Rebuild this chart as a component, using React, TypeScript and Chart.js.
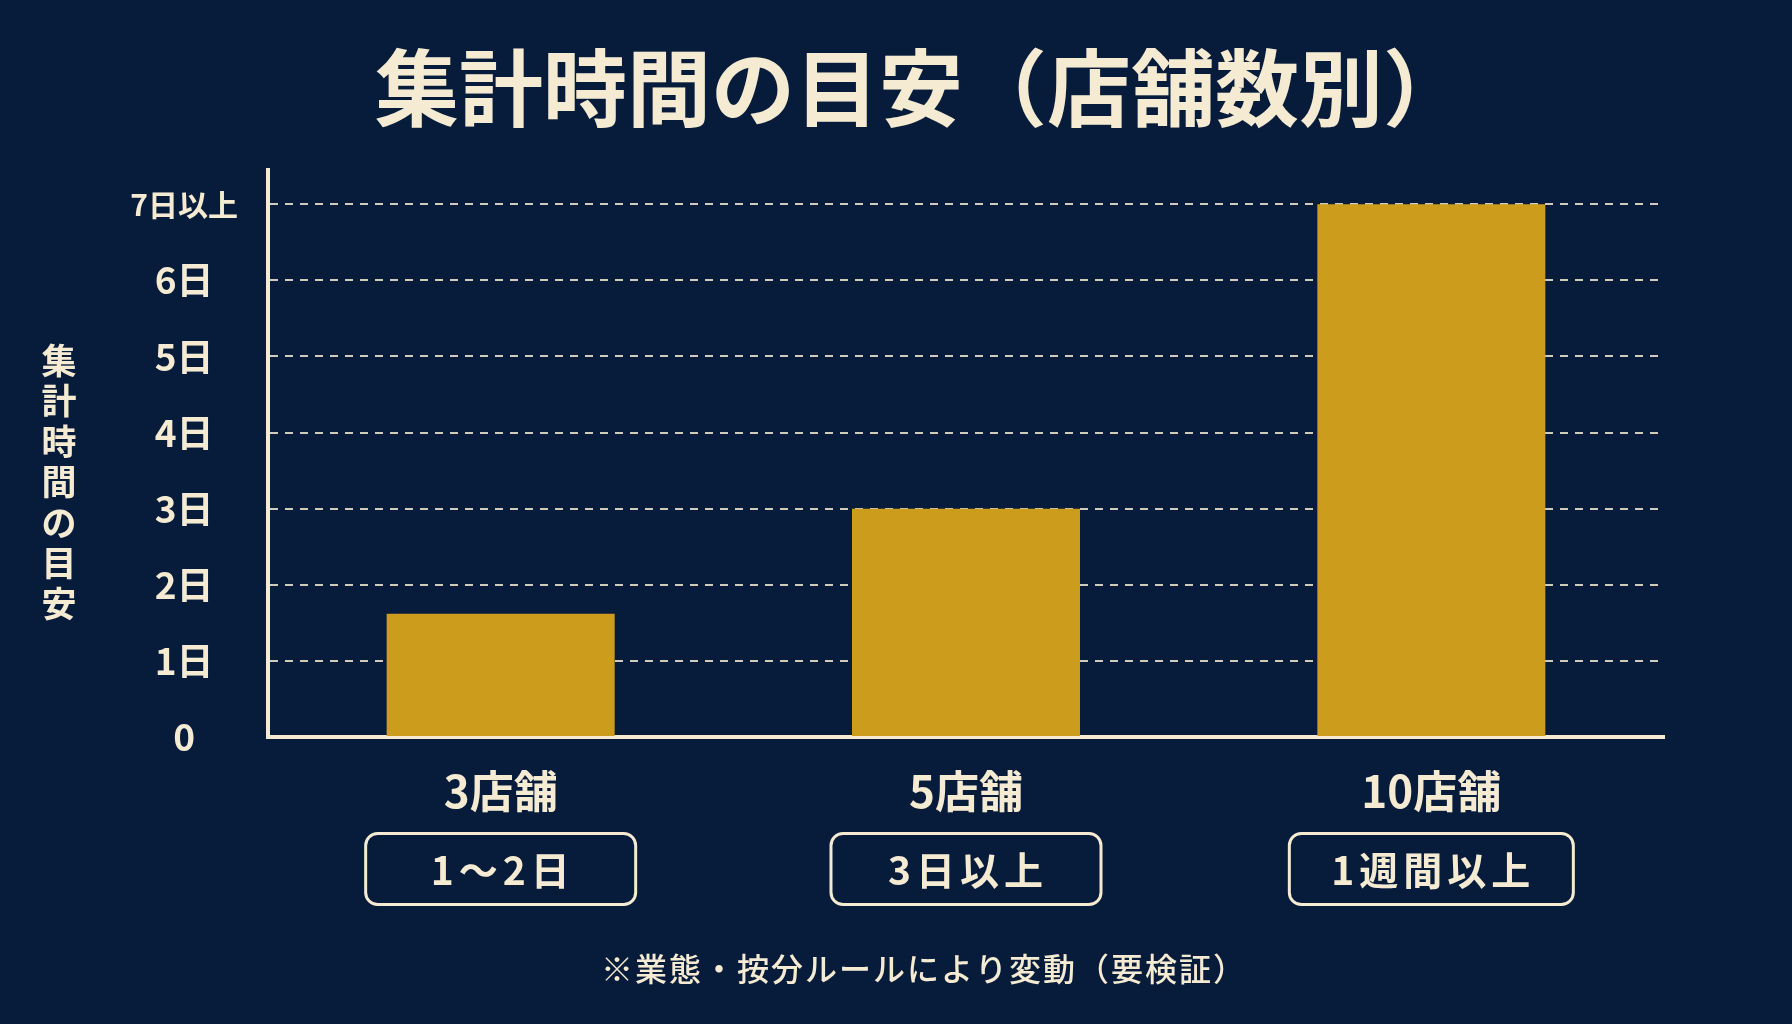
import { useEffect, useRef } from "react";
import { Chart, ChartConfiguration, Plugin, registerables } from "chart.js";

Chart.register(...registerables);

const storeCounts = ["3店舗", "5店舗", "10店舗"];
const durationDays = [1.62, 3, 7];
const durationLabels = ["1～2日", "3日以上", "1週間以上"];
const yTickLabels = ["0", "1日", "2日", "3日", "4日", "5日", "6日", "7日以上"];
const yAxisTitle = "集計時間の目安";
const chartTitle = "集計時間の目安（店舗数別）";
const footnote = "※業態・按分ルールにより変動（要検証）";

const FONT = "'Noto Sans CJK JP', 'Noto Sans', sans-serif";
const CREAM = "#f5ead2";
const NAVY = "#071b3b";
const GOLD = "#cc9c1d";

// title on top, note at the bottom
const headingPlugin: Plugin<"bar"> = {
  id: "headings",
  afterDraw(chart) {
    const ctx = chart.ctx;
    ctx.save();
    ctx.fillStyle = CREAM;
    ctx.textAlign = "center";
    ctx.textBaseline = "middle";
    ctx.font = `bold 84px ${FONT}`;
    ctx.fillText(chartTitle, chart.width / 2 + 25, 88);
    ctx.font = `500 32px ${FONT}`;
    ctx.letterSpacing = "2px";
    ctx.fillText(footnote, chart.width / 2 + 28, 969);
    ctx.restore();
  },
};

// stacked vertical y title
const yTitlePlugin: Plugin<"bar"> = {
  id: "yTitle",
  afterDraw(chart) {
    const ctx = chart.ctx;
    const chars = Array.from(yAxisTitle);
    const pitch = 40.5;
    const startY = 482 - ((chars.length - 1) * pitch) / 2;
    ctx.save();
    ctx.fillStyle = CREAM;
    ctx.font = `bold 35px ${FONT}`;
    ctx.textAlign = "center";
    ctx.textBaseline = "middle";
    chars.forEach((c, i) => ctx.fillText(c, 59, startY + i * pitch));
    ctx.restore();
  },
};

// rounded boxes under the category labels
const rangeBoxPlugin: Plugin<"bar"> = {
  id: "rangeBoxes",
  afterDraw(chart) {
    const ctx = chart.ctx;
    const xScale = chart.scales.x;
    const cy = xScale.top + 132;
    const h = 71;
    ctx.save();
    ctx.font = `600 39px ${FONT}`;
    ctx.letterSpacing = "5px";
    ctx.textAlign = "center";
    ctx.textBaseline = "middle";
    durationLabels.forEach((label, i) => {
      const cx = xScale.getPixelForValue(i);
      const w = Math.max(ctx.measureText(label).width + 80, 270);
      ctx.beginPath();
      ctx.roundRect(cx - w / 2, cy - h / 2, w, h, 12);
      ctx.strokeStyle = CREAM;
      ctx.lineWidth = 3;
      ctx.stroke();
      ctx.fillStyle = CREAM;
      ctx.fillText(label, cx + 2, cy + 1);
    });
    ctx.restore();
  },
};

export default function App() {
  const canvasRef = useRef<HTMLCanvasElement | null>(null);
  const chartRef = useRef<Chart | null>(null);

  useEffect(() => {
    if (!canvasRef.current) return;
    if (chartRef.current) chartRef.current.destroy();

    const config: ChartConfiguration<"bar"> = {
      type: "bar",
      data: {
        labels: storeCounts,
        datasets: [
          {
            data: durationDays,
            backgroundColor: GOLD,
            borderWidth: 0,
            barPercentage: 0.49,
            categoryPercentage: 1,
          },
        ],
      },
      options: {
        responsive: false,
        animation: false,
        layout: { padding: { left: 0, right: 128, top: 170, bottom: 73 } },
        plugins: {
          legend: { display: false },
          tooltip: { enabled: false },
          title: { display: false },
        },
        scales: {
          x: {
            grid: { display: false, drawTicks: false },
            border: { display: true, color: CREAM, width: 4 },
            ticks: {
              color: CREAM,
              padding: 28,
              font: { family: FONT, size: 44, weight: "bold" },
            },
            afterFit: (scale) => {
              scale.height = 214;
            },
          },
          y: {
            min: 0,
            max: 7.45,
            afterBuildTicks: (scale) => {
              scale.ticks = yTickLabels.map((_, i) => ({ value: i }));
            },
            afterFit: (scale) => {
              scale.width = 268;
            },
            grid: {
              drawTicks: false,
              color: (ctx) =>
                ctx.tick && ctx.tick.value === 0 ? "rgba(0,0,0,0)" : "rgba(245,234,210,0.85)",
              lineWidth: 2,
            },
            border: { display: true, color: CREAM, width: 4, dash: [8, 7] },
            ticks: {
              color: CREAM,
              padding: 30,
              crossAlign: "center",
              font: (ctx) =>
                ctx.tick && ctx.tick.value === 7
                  ? { family: FONT, size: 30, weight: "bold" }
                  : { family: FONT, size: 37, weight: "bold" },
              callback: (value) => yTickLabels[Number(value)] ?? "",
            },
          },
        },
      },
      plugins: [headingPlugin, yTitlePlugin, rangeBoxPlugin],
    };

    chartRef.current = new Chart(canvasRef.current, config);
    return () => {
      if (chartRef.current) {
        chartRef.current.destroy();
        chartRef.current = null;
      }
    };
  }, []);

  return (
    <div style={{ position: "fixed", left: 0, top: 0, width: 1792, height: 1024, background: NAVY }}>
      <canvas ref={canvasRef} width={1792} height={1024} style={{ display: "block" }} />
    </div>
  );
}
